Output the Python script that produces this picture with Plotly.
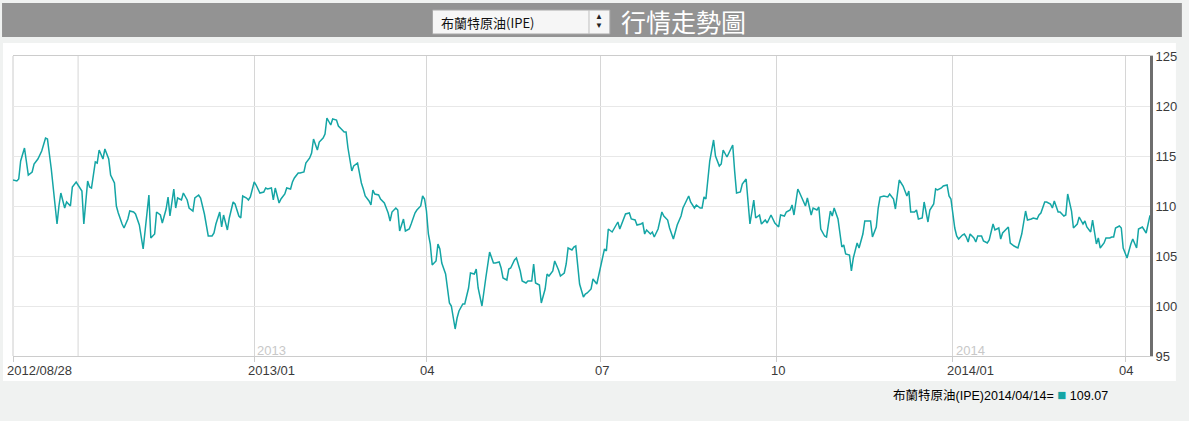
import plotly.graph_objects as go

# ---------------- data ----------------
series_name = "布蘭特原油(IPE)"
title_text = "行情走勢圖"

dates = [
    "2012-08-28", "2012-08-30", "2012-08-31", "2012-09-01", "2012-09-03", "2012-09-05", "2012-09-07",
    "2012-09-08", "2012-09-10", "2012-09-12", "2012-09-14", "2012-09-15", "2012-09-17", "2012-09-18",
    "2012-09-20", "2012-09-21", "2012-09-22", "2012-09-24", "2012-09-25", "2012-09-27", "2012-09-28",
    "2012-09-30", "2012-10-01", "2012-10-03", "2012-10-04", "2012-10-06", "2012-10-07", "2012-10-08",
    "2012-10-10", "2012-10-11", "2012-10-12", "2012-10-14", "2012-10-15", "2012-10-17", "2012-10-18",
    "2012-10-20", "2012-10-21", "2012-10-22", "2012-10-24", "2012-10-25", "2012-10-27", "2012-10-28",
    "2012-10-30", "2012-10-31", "2012-11-02", "2012-11-04", "2012-11-07", "2012-11-08", "2012-11-10",
    "2012-11-11", "2012-11-13", "2012-11-14", "2012-11-16", "2012-11-17", "2012-11-18", "2012-11-20",
    "2012-11-21", "2012-11-22", "2012-11-24", "2012-11-25", "2012-11-27", "2012-11-28", "2012-11-30",
    "2012-12-01", "2012-12-03", "2012-12-04", "2012-12-06",
    "2012-12-08", "2012-12-10", "2012-12-11", "2012-12-12", "2012-12-14", "2012-12-15", "2012-12-16",
    "2012-12-18", "2012-12-19", "2012-12-21", "2012-12-22", "2012-12-24", "2012-12-25", "2012-12-26",
    "2012-12-28", "2012-12-29", "2012-12-30", "2013-01-01", "2013-01-02", "2013-01-04", "2013-01-06",
    "2013-01-07", "2013-01-08", "2013-01-10", "2013-01-11", "2013-01-12", "2013-01-14", "2013-01-15",
    "2013-01-17", "2013-01-18", "2013-01-20", "2013-01-21", "2013-01-22", "2013-01-24", "2013-01-25",
    "2013-01-27", "2013-01-28", "2013-01-30", "2013-01-31", "2013-02-01", "2013-02-03", "2013-02-04",
    "2013-02-06", "2013-02-07", "2013-02-08", "2013-02-10", "2013-02-11", "2013-02-13", "2013-02-14",
    "2013-02-15", "2013-02-17", "2013-02-18", "2013-02-19", "2013-02-21", "2013-02-22", "2013-02-24",
    "2013-02-26", "2013-02-27", "2013-02-28", "2013-03-02", "2013-03-03", "2013-03-04", "2013-03-05",
    "2013-03-07", "2013-03-08", "2013-03-10", "2013-03-11", "2013-03-12", "2013-03-13", "2013-03-14",
    "2013-03-16", "2013-03-17", "2013-03-18", "2013-03-20", "2013-03-21", "2013-03-23", "2013-03-24",
    "2013-03-26", "2013-03-27", "2013-03-29", "2013-03-30", "2013-03-31", "2013-04-01", "2013-04-02",
    "2013-04-03", "2013-04-04", "2013-04-06", "2013-04-07", "2013-04-08", "2013-04-09", "2013-04-11",
    "2013-04-12", "2013-04-13", "2013-04-14", "2013-04-15", "2013-04-16", "2013-04-17", "2013-04-18",
    "2013-04-20", "2013-04-21", "2013-04-23", "2013-04-24", "2013-04-26", "2013-04-27", "2013-04-28",
    "2013-04-30", "2013-05-02", "2013-05-03", "2013-05-04", "2013-05-06", "2013-05-07", "2013-05-09",
    "2013-05-10", "2013-05-11", "2013-05-13", "2013-05-14", "2013-05-15", "2013-05-17", "2013-05-18",
    "2013-05-20", "2013-05-21", "2013-05-23", "2013-05-24", "2013-05-26", "2013-05-27", "2013-05-28",
    "2013-05-30", "2013-05-31", "2013-06-02", "2013-06-03", "2013-06-04", "2013-06-06", "2013-06-07",
    "2013-06-09", "2013-06-10", "2013-06-12", "2013-06-13", "2013-06-14", "2013-06-16", "2013-06-17",
    "2013-06-18", "2013-06-20", "2013-06-22",
    "2013-06-23", "2013-06-24", "2013-06-26", "2013-06-27", "2013-06-29", "2013-06-30", "2013-07-01",
    "2013-07-03", "2013-07-04", "2013-07-05", "2013-07-07", "2013-07-08", "2013-07-10", "2013-07-11",
    "2013-07-13", "2013-07-14", "2013-07-16", "2013-07-17", "2013-07-19", "2013-07-20", "2013-07-22",
    "2013-07-23", "2013-07-24", "2013-07-25", "2013-07-27", "2013-07-28", "2013-07-29", "2013-07-31",
    "2013-08-02", "2013-08-03", "2013-08-05", "2013-08-06", "2013-08-08", "2013-08-10", "2013-08-12",
    "2013-08-13", "2013-08-14", "2013-08-16", "2013-08-17", "2013-08-19", "2013-08-20", "2013-08-22",
    "2013-08-23", "2013-08-24", "2013-08-25", "2013-08-27", "2013-08-29", "2013-08-30", "2013-09-01",
    "2013-09-02", "2013-09-03", "2013-09-05", "2013-09-06", "2013-09-08", "2013-09-09", "2013-09-10",
    "2013-09-12", "2013-09-13", "2013-09-15", "2013-09-16", "2013-09-17", "2013-09-19", "2013-09-20",
    "2013-09-22", "2013-09-23", "2013-09-25", "2013-09-26", "2013-09-28", "2013-09-29",
    "2013-09-30", "2013-10-02", "2013-10-03", "2013-10-05", "2013-10-06", "2013-10-08", "2013-10-09",
    "2013-10-10", "2013-10-12", "2013-10-13", "2013-10-14", "2013-10-16", "2013-10-17", "2013-10-19",
    "2013-10-20", "2013-10-22", "2013-10-23", "2013-10-24", "2013-10-26", "2013-10-27", "2013-10-29",
    "2013-10-30", "2013-10-31", "2013-11-02", "2013-11-04", "2013-11-05", "2013-11-06", "2013-11-08",
    "2013-11-09", "2013-11-10", "2013-11-12", "2013-11-13", "2013-11-15", "2013-11-16", "2013-11-18",
    "2013-11-19", "2013-11-20", "2013-11-22", "2013-11-23", "2013-11-24", "2013-11-26", "2013-11-28",
    "2013-11-29", "2013-12-01", "2013-12-02", "2013-12-03", "2013-12-04", "2013-12-06", "2013-12-08",
    "2013-12-09", "2013-12-10", "2013-12-12", "2013-12-13", "2013-12-14", "2013-12-16", "2013-12-17",
    "2013-12-19", "2013-12-20", "2013-12-22", "2013-12-23", "2013-12-24", "2013-12-26", "2013-12-27",
    "2013-12-29", "2013-12-30", "2013-12-31", "2014-01-02", "2014-01-03", "2014-01-04", "2014-01-06",
    "2014-01-07", "2014-01-08", "2014-01-09", "2014-01-10", "2014-01-12", "2014-01-13", "2014-01-14",
    "2014-01-16", "2014-01-17", "2014-01-19", "2014-01-20", "2014-01-22", "2014-01-23", "2014-01-25",
    "2014-01-26", "2014-01-27", "2014-01-29", "2014-01-30", "2014-01-31", "2014-02-02", "2014-02-04",
    "2014-02-05", "2014-02-06", "2014-02-08", "2014-02-09", "2014-02-11", "2014-02-12", "2014-02-14",
    "2014-02-15", "2014-02-16", "2014-02-18", "2014-02-19", "2014-02-21", "2014-02-22", "2014-02-23",
    "2014-02-25", "2014-02-26", "2014-02-28", "2014-03-01", "2014-03-02", "2014-03-04", "2014-03-05",
    "2014-03-07", "2014-03-08", "2014-03-10", "2014-03-11", "2014-03-12", "2014-03-14", "2014-03-15",
    "2014-03-17", "2014-03-18", "2014-03-19", "2014-03-21", "2014-03-22", "2014-03-24", "2014-03-25",
    "2014-03-26", "2014-03-27", "2014-03-29", "2014-03-30", "2014-03-31", "2014-04-01", "2014-04-02",
    "2014-04-04", "2014-04-05", "2014-04-07", "2014-04-08", "2014-04-10", "2014-04-11", "2014-04-12",
    "2014-04-14",
]

prices = [
    112.6, 112.5, 112.7, 114.5, 115.8, 113.1, 113.4,
    114.2, 114.7, 115.5, 116.8, 116.7, 113.7, 112.0,
    108.2, 110.0, 111.3, 109.8, 110.4, 110.0, 111.9,
    112.4, 112.1, 111.5, 108.2, 112.5, 111.9, 111.8,
    114.4, 114.3, 115.6, 114.7, 115.7, 114.7, 113.1,
    112.3, 110.0, 109.3, 108.2, 107.8, 108.7, 109.5,
    109.4, 109.2, 108.1, 105.7, 111.1, 106.8, 107.2,
    109.4, 109.1, 108.3, 109.7, 110.9, 109.0, 111.7,
    109.8, 110.8, 110.6, 111.3, 110.6, 109.8, 109.5,
    110.8, 111.1, 110.8, 109.2,
    107.0, 107.0, 107.3, 108.2, 109.4, 107.9, 109.1,
    107.6, 108.8, 110.4, 110.2, 109.0, 108.8, 111.0,
    110.8, 110.6, 110.9, 112.4, 112.1, 111.3, 111.4,
    111.8, 111.7, 111.8, 110.6, 111.8, 110.3, 110.7,
    111.2, 111.8, 111.7, 112.4, 112.8, 113.3, 113.3,
    113.4, 114.3, 114.8, 115.3, 116.7, 115.6, 116.4,
    116.8, 117.2, 118.8, 118.1, 118.7, 118.6, 118.0,
    117.8, 117.4, 117.4, 115.8, 113.5, 114.0, 114.3,
    112.3, 111.7, 111.0, 110.5, 110.1, 111.6, 111.2,
    111.1, 110.7, 110.3, 109.8, 109.3, 108.5, 109.4,
    109.8, 109.6, 107.5, 108.7, 107.5, 107.7, 108.2,
    109.3, 109.6, 110.0, 111.0, 110.7, 109.5, 107.2,
    106.2, 104.1, 104.5, 106.2, 105.7, 104.3, 103.2,
    101.5, 100.3, 100.0, 98.7, 97.7, 98.8, 99.5,
    100.2, 100.2, 101.8, 103.3, 103.2, 103.7, 101.8,
    100.0, 102.8, 104.0, 105.4, 104.3, 104.3, 104.4,
    103.8, 102.8, 102.6, 103.7, 103.8, 104.6, 104.8,
    103.5, 102.5, 102.3, 102.5, 102.5, 104.2, 102.3,
    102.1, 100.3, 101.7, 103.2, 103.0, 103.5, 104.5,
    103.6, 103.0, 103.3, 104.2, 105.8, 105.6, 105.9,
    106.0, 102.2, 100.9,
    101.2, 101.3, 101.7, 102.7, 102.2, 103.0, 104.0,
    105.7, 105.5, 107.7, 107.4, 107.7, 108.4, 107.7,
    108.8, 109.2, 109.3, 108.7, 108.6, 108.1, 108.2,
    108.3, 107.2, 107.6, 107.2, 107.4, 106.9, 107.7,
    109.4, 109.0, 108.6, 107.8, 106.7, 108.1, 109.0,
    109.8, 110.2, 111.0, 110.4, 109.8, 110.1, 109.8,
    109.8, 110.9, 110.7, 114.5, 116.6, 115.0, 114.0,
    114.2, 115.6, 114.9, 115.3, 116.1, 113.5, 111.3,
    111.4, 112.2, 112.7, 110.5, 108.2, 110.6, 108.8,
    109.1, 108.2, 108.6, 108.3, 109.1, 108.7,
    108.3, 107.9, 109.1, 109.0, 109.4, 109.6, 110.1,
    109.1, 111.7, 111.3, 110.9, 110.0, 110.8, 109.1,
    109.8, 109.6, 109.9, 107.7, 107.0, 106.9, 109.5,
    109.0, 109.8, 108.7, 105.9, 106.1, 105.2, 105.1,
    103.5, 104.8, 106.3, 105.8, 107.2, 108.5, 108.5,
    108.5, 106.9, 107.9, 109.8, 110.9, 111.0, 110.9,
    111.2, 110.7, 109.7, 111.3, 112.6, 112.0, 111.0,
    111.5, 109.4, 109.4, 109.6, 108.7, 108.8, 110.4,
    108.4, 109.6, 110.2, 111.7, 111.6, 111.8, 112.0,
    112.1, 111.0, 110.7, 107.8, 107.0, 106.7, 107.1,
    107.2, 106.9, 106.4, 107.2, 106.8, 106.4, 107.0,
    107.0, 106.5, 106.3, 106.6, 108.2, 107.6, 107.8,
    106.7, 107.3, 107.7, 107.9, 106.3, 106.0, 105.8,
    106.4, 107.2, 109.5, 108.6, 108.7, 108.8, 108.7,
    109.1, 109.3, 110.4, 110.4, 110.2, 109.8, 110.5,
    109.4, 109.4, 109.0, 109.1, 111.2, 109.5, 107.8,
    108.2, 108.9, 108.2, 108.5, 107.9, 107.4, 108.6,
    106.2, 106.8, 105.8, 106.3, 106.8, 106.8, 106.9,
    106.9, 107.8, 108.0, 107.8, 105.8, 105.3, 104.8,
    106.2, 106.7, 105.8, 107.7, 107.9, 107.6, 107.3,
    109.07,
]

x_tick_dates = ["2012-08-28", "2013-01-01", "2013-04-01", "2013-07-01",
                "2013-10-01", "2014-01-01", "2014-04-01"]
x_tick_text = ["2012/08/28", "2013/01", "04", "07", "10", "2014/01", "04"]
extra_grid_dates = ["2012-10-01"]
year_mark_dates = ["2013-01-01", "2014-01-01"]
year_mark_text = ["2013", "2014"]
y_ticks = [95, 100, 105, 110, 115, 120, 125]

# ---------------- layout helpers ----------------
W, H = 1189, 421
L, R, T, B = 13, 35, 56, 65
PW = W - L - R
PH = H - T - B


def px(x):
    return (x - L) / PW


def py(y):
    return (H - B - y) / PH


PAGE_BG = "#f0f2f1"
LINE_COLOR = "#14a5a5"
FONT = "Liberation Sans, Arial, Noto Sans CJK TC, sans-serif"
CJK = "Noto Sans CJK TC, Liberation Sans, sans-serif"

fig = go.Figure()
fig.add_trace(go.Scatter(
    x=dates, y=prices, mode="lines",
    line=dict(color=LINE_COLOR, width=1.5),
    name=series_name, showlegend=False,
))

shapes = [
    # header bar
    dict(type="rect", xref="paper", yref="paper", x0=px(2), x1=px(1186), y0=py(37), y1=py(3),
         fillcolor="#939393", line=dict(width=0), layer="below"),
    # white chart panel
    dict(type="rect", xref="paper", yref="paper", x0=px(3), x1=px(1180), y0=py(381), y1=py(43),
         fillcolor="#ffffff", line=dict(width=0), layer="below"),
    # select box
    dict(type="rect", xref="paper", yref="paper", x0=px(434), x1=px(612), y0=py(34), y1=py(10),
         fillcolor="#f6f6f6", line=dict(color="#a8a8a8", width=1), layer="above"),
    dict(type="line", xref="paper", yref="paper", x0=px(591), x1=px(591), y0=py(34), y1=py(10),
         line=dict(color="#c0c0c0", width=1), layer="above"),
    # left frame border
    dict(type="line", xref="paper", yref="paper", x0=0, x1=0, y0=0, y1=1,
         line=dict(color="#cccccc", width=1), layer="below"),
]
for d in extra_grid_dates:
    shapes.append(dict(type="line", xref="x", yref="paper", x0=d, x1=d, y0=0, y1=1,
                       line=dict(color="#d6d6d6", width=1), layer="below"))

annotations = []
for d, t in zip(x_tick_dates, x_tick_text):
    annotations.append(dict(x=d, xref="x", y=py(370), yref="paper", text=t, showarrow=False,
                            xanchor="left", yanchor="middle", xshift=-8,
                            font=dict(family=FONT, size=13, color="#3a3a3a")))
for d, t in zip(year_mark_dates, year_mark_text):
    annotations.append(dict(x=d, xref="x", y=py(350), yref="paper", text=t, showarrow=False,
                            xanchor="left", yanchor="middle", xshift=1,
                            font=dict(family=FONT, size=13, color="#c8c8c8")))
# header texts
annotations += [
    dict(x=px(621), y=py(21), xref="paper", yref="paper", text=title_text, showarrow=False,
         xanchor="left", yanchor="middle", font=dict(family=CJK, size=25, color="#ffffff")),
    dict(x=px(440), y=py(22), xref="paper", yref="paper", text=series_name, showarrow=False,
         xanchor="left", yanchor="middle", font=dict(family=CJK, size=13, color="#111111")),
    dict(x=px(601), y=py(16), xref="paper", yref="paper", text="▲", showarrow=False,
         xanchor="center", yanchor="middle", font=dict(family=FONT, size=8, color="#222222")),
    dict(x=px(601), y=py(26), xref="paper", yref="paper", text="▼", showarrow=False,
         xanchor="center", yanchor="middle", font=dict(family=FONT, size=8, color="#222222")),
]
# bottom value legend
last_date = dates[-1].replace("-", "/")
last_value = prices[-1]
annotations.append(dict(
    x=px(1114), y=py(395), xref="paper", yref="paper", showarrow=False,
    xanchor="right", yanchor="middle",
    text=(f"{series_name}{last_date}= "
          f"<span style='color:{LINE_COLOR};font-size:15px'>■</span> {last_value:.2f}"),
    font=dict(family="Liberation Sans, Noto Sans CJK TC, sans-serif", size=12.5, color="#000000"),
))

fig.update_layout(
    width=W, height=H,
    margin=dict(l=L, r=R, t=T, b=B, pad=0),
    paper_bgcolor=PAGE_BG,
    plot_bgcolor="rgba(0,0,0,0)",
    shapes=shapes,
    annotations=annotations,
    showlegend=False,
    xaxis=dict(
        type="date", range=[dates[0], dates[-1]],
        tickvals=x_tick_dates, showticklabels=False,
        ticks="outside", ticklen=5, tickcolor="#cccccc",
        showgrid=True, gridcolor="#d6d6d6", gridwidth=1,
        showline=True, linecolor="#cccccc", linewidth=1, mirror=True,
        zeroline=False, fixedrange=True,
    ),
    yaxis=dict(
        side="right", range=[95, 125], tickvals=y_ticks,
        showgrid=True, gridcolor="#e8e8e8", gridwidth=1,
        showline=True, linecolor="#6e6e6e", linewidth=3,
        ticks="", tickfont=dict(family=FONT, size=13, color="#3a3a3a"),
        zeroline=False, fixedrange=True,
    ),
)

fig.write_html(
    "out.html",
    config={"displayModeBar": False},
    post_script=(f"document.body.style.margin='0';"
                 f"document.body.style.background='{PAGE_BG}';"),
)
